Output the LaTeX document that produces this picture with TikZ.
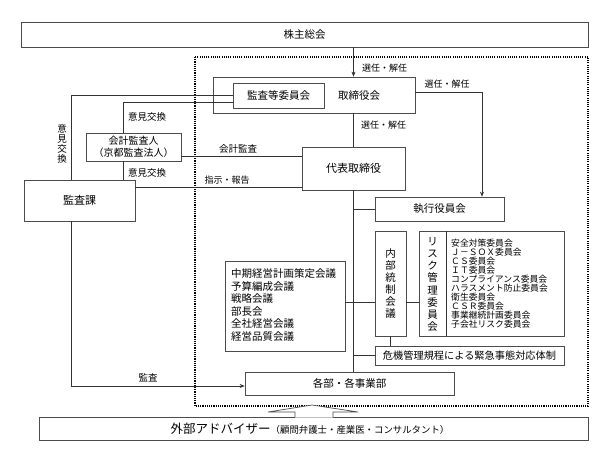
\documentclass[tikz,border=0pt]{standalone}
\usepackage{fontspec}
\setmainfont{Noto Sans CJK JP}
\usetikzlibrary{arrows.meta}
\begin{document}
\begin{tikzpicture}[x=1pt,y=-1pt,
  box/.style={draw=black!70, line width=0.7pt, inner sep=0pt, fill=white},
  ln/.style={draw=black!80, line width=0.6pt},
  arr/.style={ln, -{Stealth[length=5pt,width=4pt]}},
  lab/.style={inner sep=0pt, font=\fontsize{9}{10}\selectfont},
  big/.style={font=\fontsize{10.5}{12}\selectfont},
  dotbox/.style={draw=black, line width=1.6pt, dash pattern=on 1.1pt off 1.1pt}]
\useasboundingbox (0,0) rectangle (597,448);

% dotted frame
\draw[dotbox] (195,57) rectangle (588,406);

% boxes
\node[box, big, minimum width=567pt, minimum height=25pt] (kabu) at (304.5,34.5) {株主総会};
\node[box, minimum width=202pt, minimum height=36pt] (tbc) at (314,95) {};
\node[big, inner sep=0pt] (tbct) at (359,96) {取締役会};
\node[box, big, minimum width=91pt, minimum height=25pt] (kansatou) at (278.5,95.5) {監査等委員会};
\node[box, font=\fontsize{11}{12}\selectfont, minimum width=103pt, minimum height=43pt] (daihyo) at (353.5,168.5) {代表取締役};
\node[box, big, minimum width=129pt, minimum height=24pt] (shikko) at (439.5,209) {執行役員会};
\node[box, minimum width=120pt, minimum height=90pt] (chuki) at (285,306) {};
\node[inner sep=0pt, anchor=west, align=left, font=\fontsize{10.5}{12.6}\selectfont] (chukit) at (231,305)
  {中期経営計画策定会議\\予算編成会議\\戦略会議\\部長会\\全社経営会議\\経営品質会議};
\node[box, align=center, font=\fontsize{10.5}{12}\selectfont, minimum width=31pt, minimum height=105pt] (naibu) at (390.5,283.5)
  {内\\部\\統\\制\\会\\議};
\node[box, minimum width=145pt, minimum height=105pt] (risk) at (491.5,283.5) {};
\coordinate (dv) at (446,0);
\draw[ln] (risk.north -| dv) -- (risk.south -| dv);
\node[inner sep=0pt, align=center, font=\fontsize{10.5}{12.2}\selectfont] (riskt) at (432.5,284.5)
  {リ\\ス\\ク\\管\\理\\委\\員\\会};
\node[inner sep=0pt, anchor=west, align=left, font=\fontsize{8.8}{9}\selectfont] (riskl) at (451,283.5)
  {安全対策委員会\\Ｊ－ＳＯＸ委員会\\ＣＳ委員会\\ＩＴ委員会\\コンプライアンス委員会\\ハラスメント防止委員会\\衛生委員会\\ＣＳＲ委員会\\事業継続計画委員会\\子会社リスク委員会};
\node[box, font=\fontsize{10.2}{12}\selectfont, minimum width=189pt, minimum height=19pt] (kiki) at (469.5,355.5) {危機管理規程による緊急事態対応体制};
\node[box, big, minimum width=209pt, minimum height=23pt] (kakubu) at (349.5,383.5) {各部・各事業部};
\node[box, font=\fontsize{11}{12}\selectfont, minimum width=111pt, minimum height=41pt] (kansaka) at (79.5,200.5) {監査課};
\node[box, align=center, font=\fontsize{10}{12}\selectfont, minimum width=95pt, minimum height=28pt] (kaikei) at (133.5,147) {会計監査人\\（京都監査法人）};
\node[box, minimum width=549pt, minimum height=23pt] (gaibu) at (313.5,428.5) {};
\node[inner sep=0pt] (gaibut) at (310,428.5) {\fontsize{12.5}{14}\selectfont 外部アドバイザー\fontsize{9.4}{14}\selectfont（顧問弁護士・産業医・コンサルタント）};

% callout pointer
\fill[white] (295,417.6) -- (295,412) -- (268,412) -- (312,405) -- (358,412) -- (333,412) -- (333,417.6) -- cycle;
\draw[box, fill=none] (295,417) -- (295,412) -- (268,412) -- (312,405) -- (358,412) -- (333,412) -- (333,417);

% connectors
\draw[arr] (kabu.south -| daihyo) -- (tbc.north -| daihyo);
\node[lab, anchor=west] (l1) at (362,68) {選任・解任};

\coordinate (c1) at (482,92);
\draw[arr] (tbc.east |- c1) -- (c1) -- (c1 |- shikko.north);
\node[lab] (l2) at (447,84) {選任・解任};

\draw[ln] (tbc.south -| daihyo) -- (daihyo.north);
\node[lab, anchor=west] (l3) at (361,125) {選任・解任};

\draw[ln] (daihyo.south) -- (kakubu.north -| daihyo);
\draw[ln] (daihyo.south |- shikko.west) -- (shikko.west);
\coordinate (c2) at (0,302);
\draw[ln] (chuki.east |- c2) -- (naibu.west |- c2);
\draw[ln] (naibu.east |- c2) -- (risk.west |- c2);
\draw[ln] (daihyo.south |- kiki.west) -- (kiki.west);
\draw[ln] (naibu.south) -- (naibu.south |- kiki.north);

\coordinate (k1) at (71,95);
\draw[ln] (kansaka.north -| k1) -- (k1) -- (kansatou.west |- k1);
\node[lab, align=center, font=\fontsize{9.5}{10}\selectfont] (l4) at (62,144) {意\\見\\交\\換};

\coordinate (k2) at (123,102);
\draw[ln] (kaikei.north -| k2) -- (k2) -- (kansatou.west |- k2);
\node[lab, anchor=west, font=\fontsize{9.5}{10}\selectfont] (l5) at (128,117) {意見交換};
\draw[ln] (kaikei.south -| k2) -- (kansaka.north -| k2);
\node[lab, anchor=west, font=\fontsize{9.5}{10}\selectfont] (l6) at (128,173) {意見交換};

\coordinate (k3) at (0,156);
\draw[ln] (kaikei.east |- k3) -- (daihyo.west |- k3);
\node[lab, font=\fontsize{9.5}{10}\selectfont] (l7) at (238,149) {会計監査};

\coordinate (k4) at (0,187);
\draw[ln] (kansaka.east |- k4) -- (daihyo.west |- k4);
\node[lab] (l8) at (227,180) {指示・報告};

\coordinate (k5) at (71,386);
\draw[arr] (kansaka.south -| k5) -- (k5) -- (kakubu.west |- k5);
\node[lab, font=\fontsize{9.5}{10}\selectfont] (l9) at (148,378) {監査};
\end{tikzpicture}
\end{document}
